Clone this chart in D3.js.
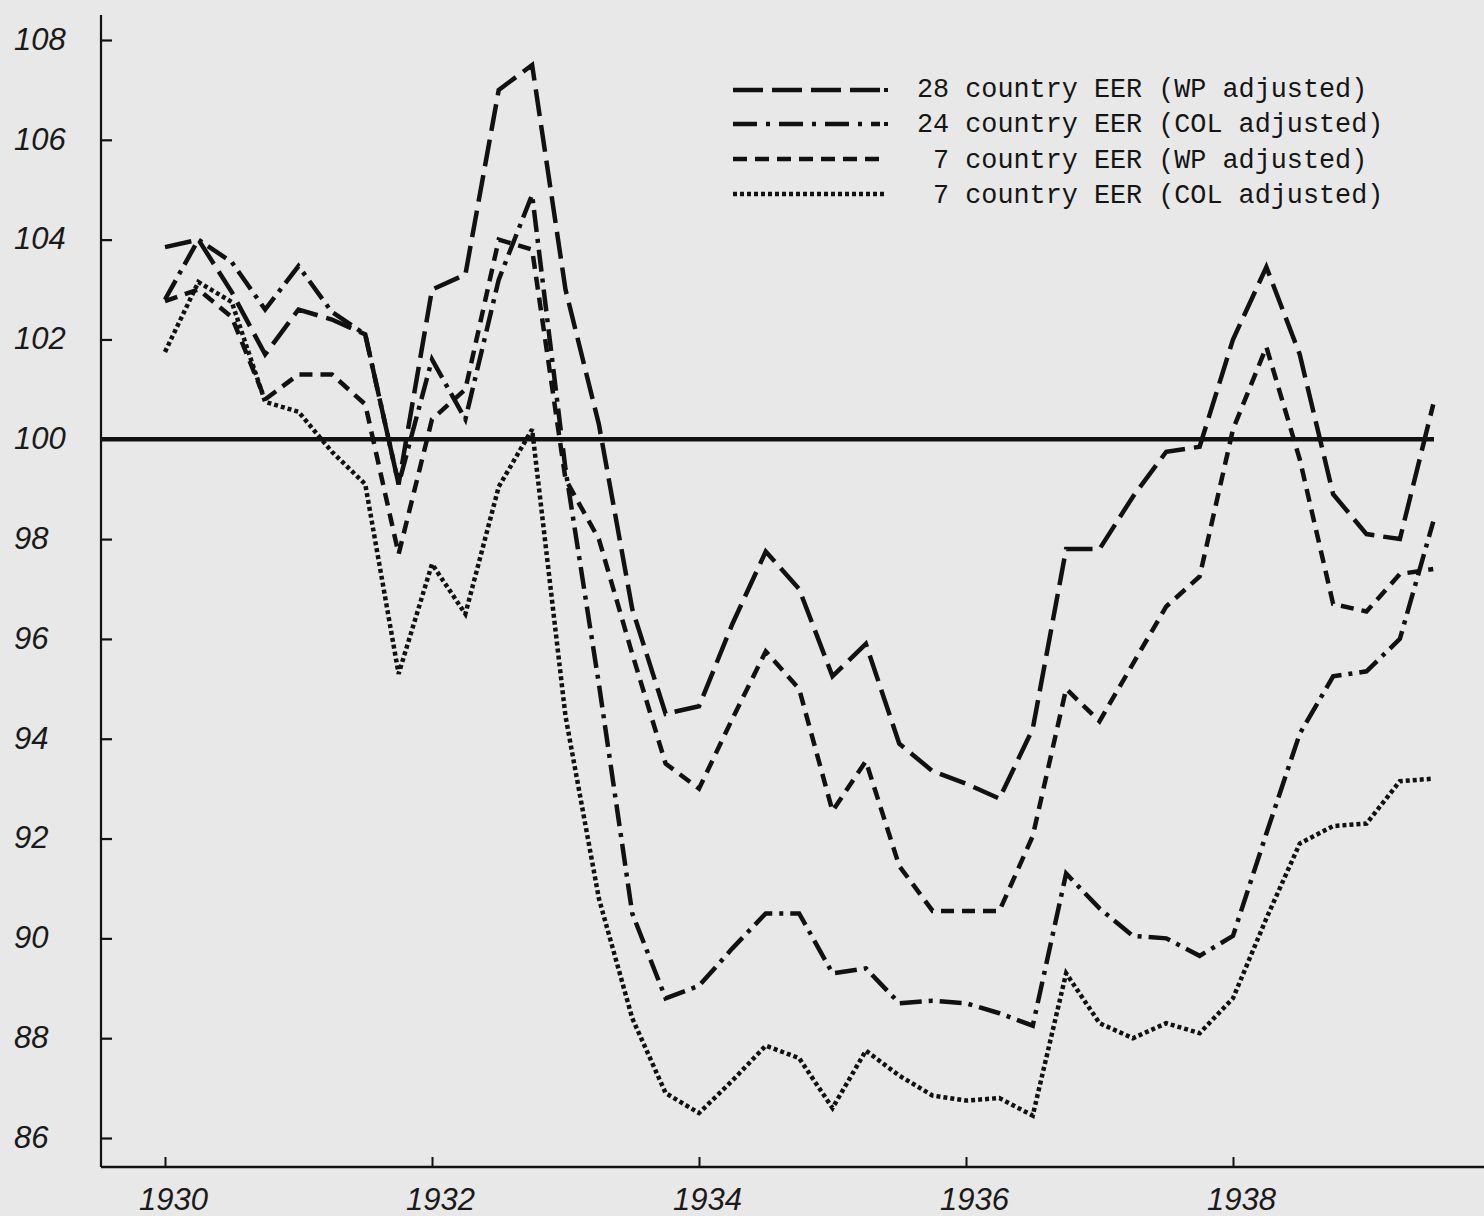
<!DOCTYPE html>
<html><head><meta charset="utf-8">
<script src="https://cdn.jsdelivr.net/npm/d3@7/dist/d3.min.js"></script>
<style>
html,body{margin:0;padding:0;background:#e8e8e8;}
svg{display:block;}
</style>
</head><body>
<svg id="chart" width="1484" height="1216"></svg>
<script>
// Quarterly observations, 1930 Q1 .. 1939 Q3 (decimal years)
const quarters = [1930.00,1930.25,1930.50,1930.75,1931.00,1931.25,1931.50,1931.75,
  1932.00,1932.25,1932.50,1932.75,1933.00,1933.25,1933.50,1933.75,
  1934.00,1934.25,1934.50,1934.75,1935.00,1935.25,1935.50,1935.75,
  1936.00,1936.25,1936.50,1936.75,1937.00,1937.25,1937.50,1937.75,
  1938.00,1938.25,1938.50,1938.75,1939.00,1939.25,1939.50];

const eer28wp = [103.85,104.0,102.95,101.7,102.6,102.4,102.1,99.1,103.0,103.3,107.0,107.5,103.0,100.3,96.6,94.5,94.65,96.3,97.75,97.0,95.25,95.9,93.9,93.35,93.1,92.8,94.2,97.8,97.8,98.85,99.75,99.85,102.0,103.45,101.7,98.9,98.1,98.0,100.7];
const eer24col = [102.8,104.0,103.55,102.6,103.47,102.55,102.1,99.1,101.6,100.4,103.2,104.9,99.4,95.1,90.5,88.8,89.05,89.8,90.5,90.5,89.3,89.4,88.7,88.75,88.7,88.5,88.25,91.3,90.6,90.05,90.0,89.65,90.05,92.1,94.1,95.25,95.35,96.0,98.35];
const eer7wp = [102.77,103.0,102.45,100.8,101.3,101.3,100.7,97.7,100.4,101.0,104.0,103.8,99.2,98.0,95.7,93.5,93.0,94.4,95.75,95.0,92.55,93.55,91.45,90.55,90.55,90.55,92.05,95.0,94.35,95.5,96.65,97.25,100.2,101.85,99.6,96.7,96.55,97.3,97.4];
const eer7col = [101.75,103.15,102.75,100.75,100.55,99.75,99.1,95.3,97.5,96.5,99.05,100.2,94.45,90.8,88.4,86.9,86.5,87.15,87.85,87.6,86.6,87.75,87.25,86.85,86.75,86.8,86.45,89.3,88.3,88.0,88.3,88.1,88.8,90.4,91.9,92.25,92.3,93.15,93.2];

const seriesNames = ["28 country EER (WP adjusted)","24 country EER (COL adjusted)"," 7 country EER (WP adjusted)"," 7 country EER (COL adjusted)"];
const yTicks = [86,88,90,92,94,96,98,100,102,104,106,108];
const xTicks = [1930,1932,1934,1936,1938];
const baseline = 100;

const ink = "#111";
const svg = d3.select("#chart");
svg.append("rect").attr("width",1484).attr("height",1216).attr("fill","#e8e8e8");

const x = d3.scaleLinear().domain([1930,1938]).range([165,1233]);
const y = d3.scaleLinear().domain([86,108]).range([1138,40]);

const axisX0 = 101, axisY0 = 1167;

// axes lines
svg.append("line").attr("x1",axisX0).attr("x2",axisX0).attr("y1",15).attr("y2",axisY0)
  .attr("stroke",ink).attr("stroke-width",2.2);
svg.append("line").attr("x1",axisX0).attr("x2",1484).attr("y1",axisY0).attr("y2",axisY0)
  .attr("stroke",ink).attr("stroke-width",2.6);

// y axis ticks (inward) and labels
const yAxis = d3.axisLeft(y).tickValues(yTicks).tickSize(-11).tickPadding(0).tickFormat(d3.format("d"));
const gy = svg.append("g").attr("transform",`translate(${axisX0},0)`).call(yAxis);
gy.select(".domain").remove();
gy.selectAll(".tick line").attr("stroke",ink).attr("stroke-width",2.2);
gy.selectAll(".tick text")
  .attr("text-anchor","start").attr("x",14-axisX0).attr("dy","0.30em")
  .attr("fill","#1a1a1a")
  .style("font-family","'Liberation Sans', Arial, sans-serif")
  .style("font-style","italic").style("font-size","31px");

// x axis ticks (upward) and labels
const xAxis = d3.axisBottom(x).tickValues(xTicks).tickSize(-10).tickPadding(0).tickFormat(d3.format("d"));
const gx = svg.append("g").attr("transform",`translate(0,${axisY0})`).call(xAxis);
gx.select(".domain").remove();
gx.selectAll(".tick line").attr("stroke",ink).attr("stroke-width",2);
gx.selectAll(".tick text")
  .attr("y",43).attr("dy",0).attr("dx",8)
  .attr("fill","#1a1a1a")
  .style("font-family","'Liberation Sans', Arial, sans-serif")
  .style("font-style","italic").style("font-size","31px");

// 100 reference line
svg.append("line").attr("x1",axisX0).attr("x2",1434)
  .attr("y1",y(baseline)).attr("y2",y(baseline))
  .attr("stroke",ink).attr("stroke-width",4.5);

// series
const styles = [
  {data:eer28wp, dash:"27,9"},
  {data:eer24col, dash:"22,7,4,7"},
  {data:eer7wp, dash:"13,8"},
  {data:eer7col, dash:"4,3"}
];
const line = d3.line().x((d,i)=>x(quarters[i])).y(d=>y(d));
styles.forEach(s=>{
  svg.append("path").datum(s.data).attr("d",line)
    .attr("fill","none").attr("stroke",ink).attr("stroke-width",4.5)
    .attr("stroke-dasharray",s.dash).attr("stroke-linejoin","miter").attr("stroke-miterlimit",3);
});

// legend
const legY = [90,124,159,194];
const legText = [97,132,168,203];
const legDash = ["30,9","24,9,4,9","14,8","4,3"];
const leg = svg.append("g");
seriesNames.forEach((name,i)=>{
  leg.append("line").attr("x1",733).attr("x2",i===3?887:(i===2?884:880))
    .attr("y1",legY[i]).attr("y2",legY[i])
    .attr("stroke",ink).attr("stroke-width",4.5).attr("stroke-dasharray",legDash[i]);
  if(i<2){
    leg.append("rect").attr("x",884).attr("y",legY[i]-2).attr("width",4).attr("height",4).attr("fill",ink);
  }
  leg.append("text").attr("x",917).attr("y",legText[i])
    .attr("fill","#151515")
    .style("font-family","'Liberation Mono','Courier New',monospace")
    .style("font-size","26.8px").style("white-space","pre")
    .text(name);
});
</script>
</body></html>
